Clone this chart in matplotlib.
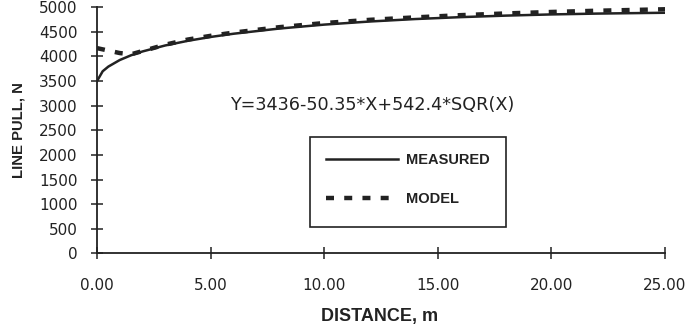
import matplotlib
matplotlib.use("Agg")
import matplotlib.pyplot as plt
from matplotlib.patches import Rectangle
from matplotlib.ticker import FormatStrFormatter

# Data
measured_x = [0, 0.25, 0.5, 1, 1.5, 2, 3, 4, 5, 6, 8, 10, 12, 14, 16, 18, 20, 22, 25]
measured_y = [3500, 3700, 3795, 3928, 4025, 4102, 4224, 4319, 4397, 4462, 4567,
              4648, 4711, 4761, 4800, 4831, 4855, 4872, 4889]
model_x = [0, 0.5, 1, 1.5, 2, 3, 4, 5, 6, 8, 10, 12, 14, 16, 18, 20, 22, 25]
model_y = [4170, 4120, 4070, 4045, 4110, 4240, 4345, 4420, 4485, 4595, 4680,
           4745, 4795, 4840, 4875, 4905, 4930, 4960]
x_ticks = [0, 5, 10, 15, 20, 25]
y_ticks = [0, 500, 1000, 1500, 2000, 2500, 3000, 3500, 4000, 4500, 5000]
equation = "Y=3436-50.35*X+542.4*SQR(X)"

plt.rcParams['font.family'] = ['DejaVu Sans']
ink = '#222222'

fig = plt.figure(figsize=(6.88, 3.30), dpi=100)
ax = fig.add_axes([0.141, 0.2324, 0.8256, 0.7455])

ax.plot(measured_x, measured_y, color=ink, lw=1.8, label='MEASURED', zorder=3)
ax.plot(model_x, model_y, color=ink, lw=3.2, linestyle=(0, (1.8, 2.3)),
        dash_capstyle='butt', label='MODEL', zorder=4)

ax.set_xlim(0, 25)
ax.set_ylim(0, 5000)
ax.set_xticks(x_ticks)
ax.set_yticks(y_ticks)
ax.xaxis.set_major_formatter(FormatStrFormatter('%.2f'))
for s in ['top', 'right']:
    ax.spines[s].set_visible(False)
for s in ['left', 'bottom']:
    ax.spines[s].set_color(ink)
    ax.spines[s].set_linewidth(1.3)
ax.tick_params(axis='both', direction='inout', length=8, width=1.1, color=ink,
               labelsize=11, labelcolor=ink)
ax.tick_params(axis='x', pad=14)
ax.tick_params(axis='y', pad=10)

ax.set_xlabel('DISTANCE, m', fontsize=13, fontweight='bold', color=ink,
              family=['Liberation Sans', 'DejaVu Sans'])
ax.xaxis.set_label_coords(0.498, -0.222)
ax.set_ylabel('LINE PULL, N', fontsize=10.7, fontweight='bold', color=ink,
              family=['Liberation Sans', 'DejaVu Sans'])
ax.yaxis.set_label_coords(-0.126, 0.501)

ax.text(0.485, 0.603, equation, transform=ax.transAxes, ha='center', va='center',
        fontsize=12.7, color=ink)

leg = ax.legend(loc='upper left', bbox_to_anchor=(0.375, 0.473), borderaxespad=0,
                frameon=False, handlelength=4.9,
                handletextpad=0.55, borderpad=1.1, labelspacing=1.74,
                prop={'weight': 'bold', 'size': 10.5,
                      'family': ['Liberation Sans', 'DejaVu Sans']})
for t in leg.get_texts():
    t.set_color(ink)
ax.add_patch(Rectangle((0.375, 0.107), 0.345, 0.366, transform=ax.transAxes,
                       fill=False, edgecolor=ink, linewidth=1.2, zorder=5))

fig.savefig('out.png', dpi=100)
